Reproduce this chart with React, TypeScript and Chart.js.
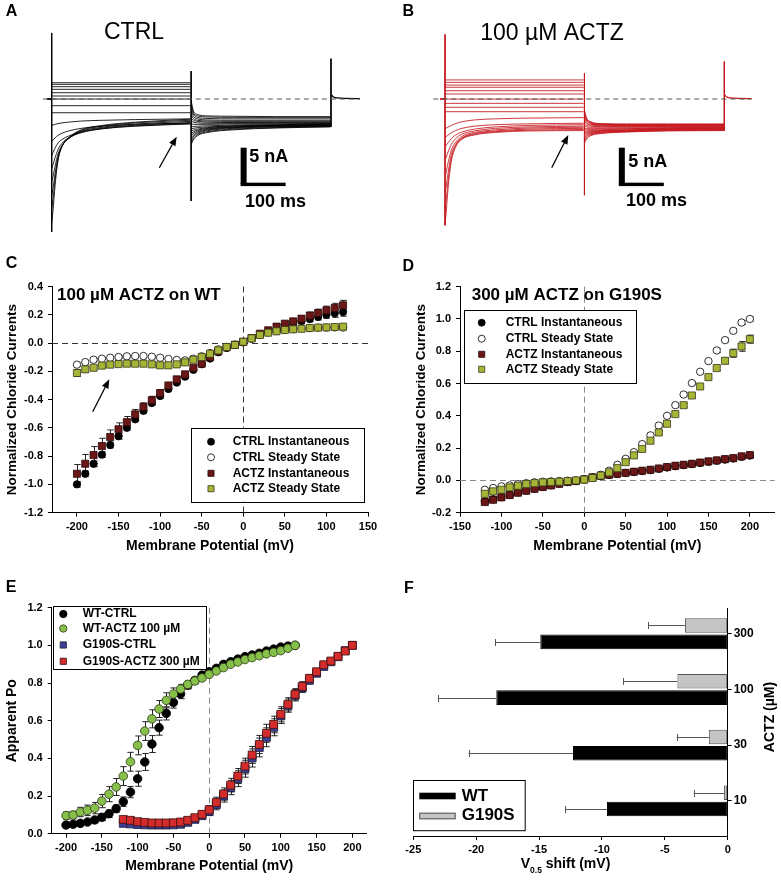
import React, { useEffect, useRef } from "react";
import { Chart, registerables } from "chart.js";

Chart.register(...registerables);

const FONT = "'Liberation Sans', Arial, Helvetica, sans-serif";
Chart.defaults.font.family = FONT;
Chart.defaults.color = "#000";

// ================= DATA =================
// ---- Panels A & B: current traces (time in ms, current in nA)
const PULSE_T = [0, 3, 8, 15, 25, 40, 70, 120, 200, 330];
const TAIL_T = [332, 337, 347, 372, 432, 532, 664];
const HOLD_T = [-12, 0];
const HOLD_I = [0, 0];
const SCALE_BAR = [100, 5]; // ms, nA

const A_ZERO_T = [-21, 734];
const A_FLAT = [2.22, 2.0, 1.68, 1.32, 0.86, 0.41, 0.0, -0.91, -1.87];
const A_DECAY = [
  [-3.6, -3.55, -3.45, -3.35, -3.25, -3.15, -3.0, -2.9, -2.8, -2.7],
  [-5.8, -5.6, -5.3, -4.95, -4.65, -4.35, -4.0, -3.7, -3.45, -3.3],
  [-7.7, -7.3, -6.7, -6.0, -5.5, -5.05, -4.5, -4.05, -3.7, -3.4],
  [-9.5, -9.0, -8.0, -6.9, -6.0, -5.3, -4.6, -4.05, -3.65, -3.35],
  [-11.3, -10.6, -9.2, -7.5, -6.3, -5.4, -4.5, -3.95, -3.55, -3.2],
  [-13.2, -12.2, -10.2, -7.9, -6.4, -5.4, -4.4, -3.85, -3.4, -3.05],
  [-15.0, -13.7, -11.0, -8.2, -6.4, -5.35, -4.3, -3.7, -3.25, -2.9],
  [-17.0, -15.3, -11.8, -8.4, -6.4, -5.3, -4.2, -3.6, -3.15, -2.75],
];
const A_TAIL = [
  [-6.2, -5.6, -5.0, -4.55, -4.2, -3.95, -3.8],
  [-5.9, -5.4, -4.85, -4.45, -4.1, -3.9, -3.75],
  [-5.6, -5.15, -4.7, -4.3, -4.0, -3.8, -3.7],
  [-5.3, -4.95, -4.55, -4.2, -3.9, -3.75, -3.65],
  [-5.0, -4.7, -4.4, -4.1, -3.85, -3.7, -3.6],
  [-4.7, -4.5, -4.25, -4.0, -3.8, -3.65, -3.55],
  [-4.4, -4.25, -4.1, -3.9, -3.7, -3.6, -3.5],
  [-4.1, -4.0, -3.9, -3.8, -3.65, -3.55, -3.45],
  [-3.8, -3.75, -3.7, -3.65, -3.55, -3.5, -3.4],
  [-3.4, -3.45, -3.45, -3.45, -3.4, -3.4, -3.35],
  [-3.0, -3.15, -3.25, -3.3, -3.3, -3.3, -3.3],
  [-2.6, -2.9, -3.05, -3.15, -3.2, -3.2, -3.2],
  [-2.2, -2.65, -2.9, -3.0, -3.05, -3.05, -3.05],
  [-1.7, -2.35, -2.7, -2.85, -2.9, -2.9, -2.9],
  [-1.2, -2.05, -2.5, -2.65, -2.7, -2.7, -2.7],
  [-0.7, -1.8, -2.3, -2.45, -2.5, -2.5, -2.5],
  [-0.2, -1.55, -2.1, -2.3, -2.35, -2.4, -2.4],
];
const A_SPIKES = [[0, 9.0, -18.1], [332, 3.8, -13.9], [665, 5.5, -3.8]];
const A_AFTER_T = [666, 670, 680, 700, 734];
const A_AFTER_I = [0.6, 0.3, 0.15, 0.08, 0.06];

const B_ZERO_T = [-28, 730];
const B_FLAT = [2.6, 2.27, 1.9, 1.6, 1.13, 0.68, 0.0, -0.59, -1.13, -1.73];
const B_DECAY = [
  [-4.0, -3.95, -3.8, -3.6, -3.35, -3.1, -2.85, -2.7, -2.6, -2.54],
  [-5.2, -5.1, -4.9, -4.6, -4.3, -4.0, -3.7, -3.5, -3.38, -3.3],
  [-6.5, -6.3, -5.9, -5.4, -4.9, -4.5, -4.1, -3.8, -3.6, -3.5],
  [-8.3, -7.9, -7.1, -6.2, -5.4, -4.8, -4.35, -4.0, -3.8, -3.7],
  [-10.6, -9.9, -8.5, -7.0, -5.9, -5.1, -4.55, -4.2, -3.95, -3.85],
  [-12.8, -11.8, -9.8, -7.6, -6.2, -5.3, -4.7, -4.35, -4.1, -4.0],
  [-15.1, -13.6, -10.8, -8.1, -6.4, -5.4, -4.8, -4.45, -4.25, -4.15],
  [-17.2, -15.3, -11.7, -8.5, -6.6, -5.5, -4.9, -4.55, -4.35, -4.3],
];
const B_TAIL = [
  [-6.0, -5.45, -5.0, -4.7, -4.5, -4.35, -4.3],
  [-5.75, -5.3, -4.9, -4.65, -4.45, -4.3, -4.25],
  [-5.5, -5.1, -4.8, -4.55, -4.4, -4.25, -4.2],
  [-5.25, -4.95, -4.7, -4.5, -4.35, -4.2, -4.15],
  [-5.0, -4.8, -4.6, -4.4, -4.3, -4.15, -4.1],
  [-4.8, -4.65, -4.5, -4.35, -4.25, -4.1, -4.05],
  [-4.6, -4.5, -4.4, -4.3, -4.2, -4.05, -4.0],
  [-4.4, -4.35, -4.3, -4.2, -4.1, -4.0, -3.95],
  [-4.2, -4.2, -4.15, -4.1, -4.05, -3.95, -3.9],
  [-4.0, -4.0, -4.0, -4.0, -3.95, -3.9, -3.85],
  [-3.7, -3.8, -3.85, -3.85, -3.85, -3.8, -3.8],
  [-3.4, -3.6, -3.7, -3.75, -3.75, -3.75, -3.75],
  [-3.0, -3.4, -3.55, -3.65, -3.65, -3.65, -3.65],
  [-2.7, -3.2, -3.45, -3.55, -3.6, -3.6, -3.6],
  [-2.4, -3.0, -3.35, -3.5, -3.55, -3.55, -3.55],
  [-2.1, -2.85, -3.25, -3.45, -3.5, -3.5, -3.5],
  [-1.8, -2.7, -3.15, -3.4, -3.45, -3.45, -3.45],
  [-1.5, -2.55, -3.1, -3.35, -3.4, -3.4, -3.4],
];
const B_SPIKES = [[0, 8.8, -17.2], [332, 3.5, -13.1], [665, 5.1, -4.3]];
const B_AFTER_T = [666, 670, 680, 700, 730];
const B_AFTER_I = [0.55, 0.3, 0.15, 0.08, 0.06];

// ---- Panel C: 100 µM ACTZ on WT (normalized currents)
const C_V = [-200, -190, -180, -170, -160, -150, -140, -130, -120, -110, -100, -90, -80, -70, -60, -50, -40, -30, -20, -10, 0, 10, 20, 30, 40, 50, 60, 70, 80, 90, 100, 110, 120];
const C_CTRL_INST = [-1.0, -0.925, -0.855, -0.79, -0.722, -0.66, -0.6, -0.54, -0.48, -0.425, -0.375, -0.325, -0.28, -0.238, -0.19, -0.15, -0.11, -0.065, -0.035, -0.012, 0.005, 0.032, 0.058, 0.08, 0.1, 0.12, 0.14, 0.155, 0.17, 0.185, 0.2, 0.21, 0.22];
const C_CTRL_SS = [-0.153, -0.135, -0.118, -0.111, -0.104, -0.099, -0.094, -0.092, -0.092, -0.097, -0.104, -0.113, -0.12, -0.123, -0.111, -0.094, -0.071, -0.045, -0.028, -0.014, 0.005, 0.031, 0.059, 0.076, 0.085, 0.094, 0.099, 0.104, 0.106, 0.109, 0.109, 0.111, 0.109];
const C_ACTZ_INST = [-0.925, -0.854, -0.793, -0.729, -0.665, -0.61, -0.56, -0.505, -0.453, -0.405, -0.354, -0.3, -0.257, -0.222, -0.175, -0.146, -0.1, -0.06, -0.03, -0.012, 0.008, 0.035, 0.066, 0.09, 0.116, 0.137, 0.153, 0.172, 0.194, 0.212, 0.231, 0.248, 0.267];
const C_ACTZ_SS = [-0.212, -0.186, -0.175, -0.16, -0.153, -0.149, -0.146, -0.146, -0.146, -0.151, -0.158, -0.158, -0.151, -0.137, -0.118, -0.099, -0.076, -0.052, -0.028, -0.014, 0.009, 0.033, 0.057, 0.073, 0.083, 0.092, 0.097, 0.101, 0.106, 0.109, 0.111, 0.113, 0.116];
const C_CTRL_INST_ERR = [0.02, 0.02, 0.02, 0.02, 0.02, 0.02, 0.015, 0.015, 0.015, 0.015, 0.015, 0.012, 0.01, 0.01, 0.01, 0.01, 0.008, 0.008, 0.005, 0.005, 0.005, 0.005, 0.008, 0.01, 0.01, 0.012, 0.015, 0.018, 0.02, 0.022, 0.025, 0.028, 0.03];
const C_CTRL_SS_ERR = [0.012, 0.01, 0.01, 0.008, 0.008, 0.008, 0.008, 0.008, 0.008, 0.008, 0.008, 0.008, 0.008, 0.008, 0.008, 0.008, 0.006, 0.006, 0.005, 0.005, 0.005, 0.005, 0.006, 0.006, 0.006, 0.006, 0.006, 0.008, 0.008, 0.008, 0.008, 0.01, 0.01];
const C_ACTZ_INST_ERR = [0.065, 0.065, 0.06, 0.055, 0.05, 0.045, 0.04, 0.035, 0.03, 0.028, 0.025, 0.02, 0.018, 0.015, 0.012, 0.01, 0.008, 0.008, 0.005, 0.005, 0.005, 0.008, 0.01, 0.012, 0.015, 0.018, 0.02, 0.022, 0.025, 0.028, 0.03, 0.033, 0.035];
const C_ACTZ_SS_ERR = [0.025, 0.02, 0.015, 0.012, 0.01, 0.01, 0.01, 0.01, 0.01, 0.01, 0.01, 0.01, 0.01, 0.01, 0.008, 0.008, 0.006, 0.006, 0.005, 0.005, 0.005, 0.005, 0.006, 0.006, 0.006, 0.006, 0.006, 0.006, 0.008, 0.008, 0.008, 0.01, 0.01];
const C_X_TICKS = [-200, -150, -100, -50, 0, 50, 100, 150];
const C_Y_TICKS = [-1.2, -1.0, -0.8, -0.6, -0.4, -0.2, 0, 0.2, 0.4];

// ---- Panel D: 300 µM ACTZ on G190S
const D_V = [-120, -110, -100, -90, -80, -70, -60, -50, -40, -30, -20, -10, 0, 10, 20, 30, 40, 50, 60, 70, 80, 90, 100, 110, 120, 130, 140, 150, 160, 170, 180, 190, 200];
const D_CTRL_INST = [-0.13, -0.117, -0.103, -0.089, -0.075, -0.063, -0.051, -0.04, -0.03, -0.02, -0.01, -0.004, 0.006, 0.018, 0.028, 0.034, 0.04, 0.046, 0.052, 0.058, 0.064, 0.072, 0.08, 0.088, 0.095, 0.101, 0.108, 0.115, 0.122, 0.129, 0.136, 0.146, 0.154];
const D_CTRL_SS = [-0.058, -0.047, -0.037, -0.031, -0.023, -0.017, -0.012, -0.008, -0.006, -0.004, -0.002, 0.0, 0.008, 0.018, 0.035, 0.06, 0.097, 0.134, 0.175, 0.225, 0.279, 0.34, 0.4, 0.466, 0.532, 0.603, 0.673, 0.739, 0.805, 0.869, 0.927, 0.978, 1.0];
const D_ACTZ_INST = [-0.134, -0.12, -0.105, -0.091, -0.076, -0.064, -0.052, -0.041, -0.031, -0.021, -0.01, -0.004, 0.006, 0.019, 0.029, 0.035, 0.041, 0.047, 0.054, 0.06, 0.066, 0.074, 0.083, 0.091, 0.097, 0.103, 0.111, 0.118, 0.124, 0.132, 0.138, 0.149, 0.157];
const D_ACTZ_SS = [-0.083, -0.068, -0.058, -0.043, -0.033, -0.023, -0.017, -0.012, -0.01, -0.008, -0.004, 0.0, 0.005, 0.015, 0.03, 0.05, 0.076, 0.113, 0.155, 0.195, 0.246, 0.297, 0.351, 0.411, 0.466, 0.526, 0.582, 0.64, 0.696, 0.741, 0.788, 0.83, 0.875];
const D_INST_ERR = [0.008, 0.008, 0.007, 0.007, 0.006, 0.006, 0.005, 0.005, 0.005, 0.005, 0.005, 0.005, 0.005, 0.005, 0.005, 0.005, 0.005, 0.005, 0.005, 0.005, 0.005, 0.006, 0.006, 0.006, 0.006, 0.006, 0.007, 0.007, 0.007, 0.008, 0.008, 0.008, 0.009];
const D_CTRL_SS_ERR = [0.008, 0.008, 0.007, 0.007, 0.006, 0.006, 0.005, 0.005, 0.005, 0.005, 0.005, 0.005, 0.005, 0.005, 0.006, 0.006, 0.007, 0.008, 0.008, 0.008, 0.009, 0.01, 0.01, 0.01, 0.01, 0.01, 0.01, 0.01, 0.012, 0.012, 0.012, 0.012, 0.012];
const D_ACTZ_SS_ERR = [0.008, 0.008, 0.007, 0.007, 0.006, 0.006, 0.005, 0.005, 0.005, 0.005, 0.005, 0.005, 0.005, 0.005, 0.006, 0.006, 0.007, 0.008, 0.008, 0.008, 0.008, 0.01, 0.01, 0.012, 0.012, 0.012, 0.015, 0.015, 0.015, 0.018, 0.025, 0.03, 0.025];
const D_X_TICKS = [-150, -100, -50, 0, 50, 100, 150, 200];
const D_Y_TICKS = [-0.2, 0, 0.2, 0.4, 0.6, 0.8, 1.0, 1.2];

// ---- Panel E: apparent Po
const E_WT_V = [-200, -190, -180, -170, -160, -150, -140, -130, -120, -110, -100, -90, -80, -70, -60, -50, -40, -30, -20, -10, 0, 10, 20, 30, 40, 50, 60, 70, 80, 90, 100, 110, 120];
const E_WT_CTRL = [0.046, 0.05, 0.055, 0.062, 0.073, 0.087, 0.106, 0.133, 0.17, 0.221, 0.292, 0.381, 0.476, 0.563, 0.639, 0.697, 0.742, 0.789, 0.814, 0.842, 0.86, 0.878, 0.899, 0.913, 0.927, 0.94, 0.949, 0.958, 0.97, 0.98, 0.991, 0.996, 1.0];
const E_WT_ACTZ = [0.096, 0.099, 0.115, 0.124, 0.136, 0.173, 0.21, 0.248, 0.306, 0.382, 0.469, 0.545, 0.61, 0.662, 0.708, 0.742, 0.768, 0.793, 0.811, 0.827, 0.846, 0.864, 0.882, 0.9, 0.912, 0.925, 0.935, 0.945, 0.955, 0.963, 0.972, 0.985, 1.0];
const E_WT_CTRL_ERR = [0.012, 0.012, 0.012, 0.012, 0.015, 0.018, 0.02, 0.02, 0.025, 0.03, 0.04, 0.045, 0.045, 0.04, 0.035, 0.03, 0.025, 0.02, 0.015, 0.012, 0.01, 0.01, 0.01, 0.008, 0.008, 0.008, 0.006, 0.006, 0.006, 0.005, 0.005, 0.005, 0.0];
const E_WT_ACTZ_ERR = [0.02, 0.02, 0.025, 0.028, 0.03, 0.035, 0.04, 0.045, 0.05, 0.05, 0.05, 0.05, 0.048, 0.045, 0.04, 0.032, 0.025, 0.02, 0.015, 0.012, 0.01, 0.01, 0.01, 0.008, 0.008, 0.008, 0.006, 0.006, 0.006, 0.005, 0.005, 0.005, 0.0];
const E_G_V = [-120, -110, -100, -90, -80, -70, -60, -50, -40, -30, -20, -10, 0, 10, 20, 30, 40, 50, 60, 70, 80, 90, 100, 110, 120, 130, 140, 150, 160, 170, 180, 190, 200];
const E_G_CTRL = [0.055, 0.052, 0.049, 0.047, 0.046, 0.046, 0.046, 0.047, 0.05, 0.06, 0.076, 0.096, 0.118, 0.155, 0.2, 0.245, 0.292, 0.345, 0.402, 0.458, 0.512, 0.565, 0.625, 0.68, 0.735, 0.775, 0.815, 0.852, 0.888, 0.913, 0.94, 0.972, 1.0];
const E_G_ACTZ = [0.076, 0.071, 0.064, 0.06, 0.057, 0.057, 0.057, 0.058, 0.062, 0.071, 0.085, 0.103, 0.127, 0.166, 0.211, 0.258, 0.306, 0.359, 0.418, 0.474, 0.533, 0.58, 0.634, 0.687, 0.74, 0.782, 0.825, 0.86, 0.897, 0.917, 0.942, 0.97, 1.0];
const E_G_CTRL_ERR = [0.01, 0.01, 0.01, 0.01, 0.01, 0.01, 0.01, 0.01, 0.01, 0.012, 0.015, 0.018, 0.022, 0.028, 0.032, 0.038, 0.042, 0.045, 0.048, 0.05, 0.05, 0.045, 0.04, 0.035, 0.03, 0.025, 0.02, 0.015, 0.012, 0.01, 0.01, 0.008, 0.0];
const E_G_ACTZ_ERR = [0.01, 0.01, 0.01, 0.01, 0.01, 0.01, 0.01, 0.01, 0.01, 0.012, 0.015, 0.018, 0.022, 0.028, 0.032, 0.036, 0.04, 0.042, 0.045, 0.048, 0.048, 0.044, 0.04, 0.035, 0.03, 0.025, 0.02, 0.015, 0.012, 0.01, 0.01, 0.008, 0.0];
const E_X_TICKS = [-200, -150, -100, -50, 0, 50, 100, 150, 200];
const E_Y_TICKS = [0, 0.2, 0.4, 0.6, 0.8, 1.0, 1.2];

// ---- Panel F: V0.5 shift (mV)
const F_CATS = ["300", "100", "30", "10"];
const F_WT = [-14.9, -18.4, -12.3, -9.6];
const F_WT_ERR = [3.6, 4.65, 8.3, 3.3];
const F_G190S = [-3.4, -4.0, -1.5, -0.3];
const F_G190S_ERR = [2.9, 4.3, 2.55, 2.4];
const F_X_TICKS = [-25, -20, -15, -10, -5, 0];

// ================= HELPERS =================
const pts = (xs: number[], ys: number[]) => xs.map((x, i) => ({ x, y: ys[i] }));

function drawText(ctx: any, t: any) {
  ctx.save();
  ctx.font = `${t.weight || "bold"} ${t.size}px ${FONT}`;
  ctx.fillStyle = t.color || "#000";
  ctx.textAlign = t.align || "left";
  ctx.textBaseline = "middle";
  if (t.rotate) {
    ctx.translate(t.x, t.y);
    ctx.rotate(t.rotate);
    ctx.fillText(t.text, 0, 0);
  } else {
    ctx.fillText(t.text, t.x, t.y);
  }
  ctx.restore();
}

function drawArrow(ctx: any, a: number[]) {
  const [x0, y0, x1, y1] = a;
  const ang = Math.atan2(y1 - y0, x1 - x0);
  const hl = 9, hw = 3.6;
  const bx = x1 - hl * Math.cos(ang), by = y1 - hl * Math.sin(ang);
  ctx.save();
  ctx.strokeStyle = "#000";
  ctx.fillStyle = "#000";
  ctx.lineWidth = 1.3;
  ctx.beginPath();
  ctx.moveTo(x0, y0);
  ctx.lineTo(bx, by);
  ctx.stroke();
  ctx.beginPath();
  ctx.moveTo(x1, y1);
  ctx.lineTo(bx - hw * Math.sin(ang), by + hw * Math.cos(ang));
  ctx.lineTo(bx + hw * Math.sin(ang), by - hw * Math.cos(ang));
  ctx.closePath();
  ctx.fill();
  ctx.restore();
}

function drawMarker(ctx: any, style: string, x: number, y: number, r: number, fill: string, stroke: string, bw: number) {
  ctx.save();
  ctx.beginPath();
  if (style === "rect") {
    const s = r * Math.SQRT1_2;
    ctx.rect(x - s, y - s, 2 * s, 2 * s);
  } else {
    ctx.arc(x, y, r, 0, Math.PI * 2);
  }
  ctx.fillStyle = fill;
  ctx.fill();
  ctx.lineWidth = bw;
  ctx.strokeStyle = stroke;
  ctx.stroke();
  ctx.restore();
}

function decor(cfg: any) {
  return {
    id: "decor",
    afterDraw(chart: any) {
      const ctx = chart.ctx;
      if (cfg.bar) {
        const xs = chart.scales.x, ys = chart.scales.y;
        const x0 = xs.getPixelForValue(cfg.bar.t);
        const x1 = xs.getPixelForValue(cfg.bar.t + SCALE_BAR[0]);
        const yTop = ys.getPixelForValue(cfg.bar.i);
        const yBot = ys.getPixelForValue(cfg.bar.i - SCALE_BAR[1]);
        ctx.save();
        ctx.fillStyle = "#000";
        ctx.fillRect(x0 - 3, yTop, 6, yBot - yTop);
        ctx.fillRect(x0 - 3, yBot - 1.7, x1 - x0 + 3, 3.4);
        ctx.restore();
      }
      (cfg.arrows || []).forEach((a: number[]) => drawArrow(ctx, a));
      (cfg.texts || []).forEach((t: any) => drawText(ctx, t));
      if (cfg.draw) cfg.draw(ctx, chart);
    },
  };
}

function zeroLines(cfg: any) {
  return {
    id: "zeroLines",
    beforeDatasetsDraw(chart: any) {
      const { ctx, chartArea: a, scales } = chart;
      ctx.save();
      ctx.setLineDash(cfg.dash);
      ctx.strokeStyle = cfg.color;
      ctx.lineWidth = 1;
      if (cfg.h) {
        const py = Math.round(scales.y.getPixelForValue(0)) + 0.5;
        ctx.beginPath();
        ctx.moveTo(a.left, py);
        ctx.lineTo(a.right, py);
        ctx.stroke();
      }
      if (cfg.v) {
        const px = Math.round(scales.x.getPixelForValue(0)) + 0.5;
        ctx.beginPath();
        ctx.moveTo(px, a.top);
        ctx.lineTo(px, a.bottom);
        ctx.stroke();
      }
      ctx.restore();
    },
  };
}

const errorBars = {
  id: "errorBars",
  beforeDatasetsDraw(chart: any) {
    const { ctx } = chart;
    const ys = chart.scales.y;
    chart.data.datasets.forEach((ds: any, i: number) => {
      if (!ds.errors) return;
      const meta = chart.getDatasetMeta(i);
      ctx.save();
      ctx.strokeStyle = ds.errorColor || "#222";
      ctx.lineWidth = 1;
      meta.data.forEach((el: any, j: number) => {
        const e = ds.errors[j];
        if (!e) return;
        const v = ds.data[j].y;
        const y0 = ys.getPixelForValue(v + e);
        const y1 = ys.getPixelForValue(v - e);
        const x = Math.round(el.x) + 0.5;
        const cw = 3.2;
        ctx.beginPath();
        ctx.moveTo(x, y0);
        ctx.lineTo(x, y1);
        ctx.moveTo(x - cw, y0);
        ctx.lineTo(x + cw, y0);
        ctx.moveTo(x - cw, y1);
        ctx.lineTo(x + cw, y1);
        ctx.stroke();
      });
      ctx.restore();
    });
  },
};

function boxLegend(cfg: any) {
  return {
    id: "boxLegend",
    afterDatasetsDraw(chart: any) {
      const ctx = chart.ctx;
      const [x0, y0, x1, y1] = cfg.box;
      ctx.save();
      ctx.fillStyle = "#fff";
      ctx.fillRect(x0, y0, x1 - x0, y1 - y0);
      ctx.strokeStyle = "#000";
      ctx.lineWidth = 1;
      ctx.strokeRect(Math.round(x0) + 0.5, Math.round(y0) + 0.5, Math.round(x1 - x0), Math.round(y1 - y0));
      ctx.restore();
      cfg.items.forEach((it: any, k: number) => {
        const d = chart.data.datasets[it.ds];
        drawMarker(ctx, d.pointStyle, cfg.markerX, cfg.rows[k], it.r, d.backgroundColor, d.borderColor, d.borderWidth);
        drawText(ctx, { text: d.label, x: cfg.textX, y: cfg.rows[k], size: cfg.font });
      });
    },
  };
}

function linAxis(o: any) {
  return {
    type: "linear",
    position: o.position,
    min: o.min,
    max: o.max,
    reverse: !!o.reverse,
    offset: false,
    afterBuildTicks: (s: any) => {
      s.ticks = o.ticks.map((v: number) => ({ value: v }));
    },
    afterFit: (s: any) => {
      if (s.isHorizontal()) s.height = o.size;
      else s.width = o.size;
    },
    grid: { display: true, offset: false, drawOnChartArea: false, drawTicks: true, tickLength: 4, color: "#000", lineWidth: 1 },
    border: { display: true, color: "#000", width: 1 },
    ticks: {
      display: true,
      autoSkip: false,
      maxRotation: 0,
      minRotation: 0,
      padding: o.tickPad ?? 4,
      color: "#000",
      font: { family: FONT, size: o.tickSize ?? 11, weight: "bold" },
      callback: o.fmt,
    },
    title: {
      display: !!o.title,
      text: o.title || "",
      color: "#000",
      font: { family: FONT, size: o.titleSize ?? 14, weight: "bold" },
      padding: { top: o.titlePad ?? 0, bottom: 0 },
    },
  };
}

const baseOptions = {
  animation: false,
  responsive: false,
  events: [],
  plugins: { legend: { display: false }, tooltip: { enabled: false }, title: { display: false } },
};

const fmt1 = (v: number) => v.toFixed(1);
const fmt0 = (v: number) => String(v);

function scatterDs(label: string, xs: number[], ys: number[], errs: number[], style: string, r: number, fill: string, stroke: string, order: number) {
  return {
    label,
    data: pts(xs, ys),
    errors: errs,
    pointStyle: style,
    pointRadius: r,
    backgroundColor: fill,
    borderColor: stroke,
    borderWidth: 0.8,
    showLine: false,
    order,
  };
}

// ================= PANEL BUILDERS =================
function traceConfig(s: any) {
  const line = (data: any[], extra: any = {}) => ({
    data,
    borderColor: s.color,
    borderWidth: 0.85,
    pointRadius: 0,
    fill: false,
    ...extra,
  });
  const ds: any[] = [];
  ds.push({ data: s.zeroT.map((t: number) => ({ x: t, y: 0 })), borderColor: "#555", borderWidth: 1, borderDash: [5, 4], pointRadius: 0, fill: false });
  s.spikes.forEach((sp: number[]) => ds.push(line([{ x: sp[0], y: sp[1] }, { x: sp[0], y: sp[2] }], { borderWidth: 1 })));
  s.flat.forEach((v: number) => ds.push(line([{ x: PULSE_T[0], y: v }, { x: PULSE_T[PULSE_T.length - 1], y: v }])));
  s.decay.forEach((arr: number[]) => ds.push(line(pts(PULSE_T, arr), { cubicInterpolationMode: "monotone" })));
  s.tail.forEach((arr: number[]) => ds.push(line(pts(TAIL_T, arr), { cubicInterpolationMode: "monotone" })));
  ds.push(line(pts(HOLD_T, HOLD_I), { borderWidth: 1.8 }));
  ds.push(line(pts(s.afterT, s.afterI), { cubicInterpolationMode: "monotone", borderWidth: 1.2 }));
  return {
    type: "line",
    data: { datasets: ds },
    options: {
      ...baseOptions,
      layout: { padding: 0 },
      scales: {
        x: { type: "linear", display: false, min: s.xMin, max: s.xMax },
        y: { type: "linear", display: false, min: -20.57, max: 13.49 },
      },
    },
    plugins: [decor({ texts: s.texts, arrows: s.arrows, bar: s.bar })],
  };
}

const buildA = () =>
  traceConfig({
    color: "#000",
    zeroT: A_ZERO_T,
    flat: A_FLAT,
    decay: A_DECAY,
    tail: A_TAIL,
    spikes: A_SPIKES,
    afterT: A_AFTER_T,
    afterI: A_AFTER_I,
    xMin: -123.1,
    xMax: 805.5,
    bar: { t: 457, i: -6.63 },
    arrows: [[159.3, 167.7, 176.7, 136.7]],
    texts: [
      { text: "A", x: 11.5, y: 12, size: 16, align: "center" },
      { text: "CTRL", x: 134, y: 32.5, size: 23, weight: "normal", align: "center" },
      { text: "5 nA", x: 249.3, y: 156.7, size: 18 },
      { text: "100 ms", x: 245, y: 201.7, size: 18 },
    ],
  });

const buildB = () =>
  traceConfig({
    color: "#c4161c",
    zeroT: B_ZERO_T,
    flat: B_FLAT,
    decay: B_DECAY,
    tail: B_TAIL,
    spikes: B_SPIKES,
    afterT: B_AFTER_T,
    afterI: B_AFTER_I,
    xMin: -131,
    xMax: 800,
    bar: { t: 421, i: -6.63 },
    arrows: [[161.7, 167.7, 178.3, 135]],
    texts: [
      { text: "B", x: 18.3, y: 11.5, size: 16, align: "center" },
      { text: "100 µM ACTZ", x: 162, y: 33.3, size: 23, weight: "normal", align: "center" },
      { text: "5 nA", x: 238.3, y: 161.7, size: 18 },
      { text: "100 ms", x: 236, y: 201, size: 18 },
    ],
  });

const buildC = () => ({
  type: "scatter",
  data: {
    datasets: [
      scatterDs("CTRL Instantaneous", C_V, C_CTRL_INST, C_CTRL_INST_ERR, "circle", 3.7, "#000", "#000", 3),
      scatterDs("CTRL Steady State", C_V, C_CTRL_SS, C_CTRL_SS_ERR, "circle", 3.7, "#fff", "#000", 2),
      scatterDs("ACTZ Instantaneous", C_V, C_ACTZ_INST, C_ACTZ_INST_ERR, "rect", 5, "#6b1717", "#2b0808", 1),
      scatterDs("ACTZ Steady State", C_V, C_ACTZ_SS, C_ACTZ_SS_ERR, "rect", 5, "#a6b536", "#3a3a1a", 0),
    ],
  },
  options: {
    ...baseOptions,
    layout: { padding: { left: 2, top: 36.5, right: 22, bottom: 0 } },
    scales: {
      x: linAxis({ position: "bottom", min: -230, max: 150, ticks: C_X_TICKS, size: 42.4, fmt: fmt0, title: "Membrane Potential (mV)", titleSize: 14 }),
      y: linAxis({ position: "left", min: -1.2, max: 0.4, ticks: C_Y_TICKS, size: 50, fmt: fmt1, tickPad: 5, title: "Normalized Chloride Currents", titleSize: 13.5, titlePad: 2 }),
    },
  },
  plugins: [
    zeroLines({ h: true, v: true, color: "#333", dash: [6, 4] }),
    errorBars,
    boxLegend({
      box: [191, 177.7, 364.3, 251.7],
      markerX: 211,
      textX: 232.7,
      rows: [191.7, 207.3, 223.3, 238.7],
      font: 12,
      items: [{ ds: 0, r: 3.5 }, { ds: 1, r: 3.5 }, { ds: 2, r: 4.3 }, { ds: 3, r: 4.3 }],
    }),
    decor({
      arrows: [[92.7, 161.7, 109.3, 129.3]],
      texts: [
        { text: "C", x: 11.5, y: 14, size: 16, align: "center" },
        { text: "100 µM ACTZ on WT", x: 57, y: 45.5, size: 17 },
      ],
    }),
  ],
});

const buildD = () => ({
  type: "scatter",
  data: {
    datasets: [
      scatterDs("CTRL Instantaneous", D_V, D_CTRL_INST, D_INST_ERR, "circle", 3.7, "#000", "#000", 3),
      scatterDs("CTRL Steady State", D_V, D_CTRL_SS, D_CTRL_SS_ERR, "circle", 3.7, "#fff", "#000", 2),
      scatterDs("ACTZ Instantaneous", D_V, D_ACTZ_INST, D_INST_ERR, "rect", 5, "#6b1717", "#2b0808", 1),
      scatterDs("ACTZ Steady State", D_V, D_ACTZ_SS, D_ACTZ_SS_ERR, "rect", 5, "#a6b536", "#3a3a1a", 0),
    ],
  },
  options: {
    ...baseOptions,
    layout: { padding: { left: 23.6, top: 36.7, right: 6.3, bottom: 0 } },
    scales: {
      x: linAxis({ position: "bottom", min: -150, max: 230, ticks: D_X_TICKS, size: 42.3, fmt: fmt0, title: "Membrane Potential (mV)", titleSize: 14 }),
      y: linAxis({ position: "left", min: -0.2, max: 1.2, ticks: D_Y_TICKS, size: 46.4, fmt: fmt1, tickPad: 5, title: "Normalized Chloride Currents", titleSize: 13.5, titlePad: 0 }),
    },
  },
  plugins: [
    zeroLines({ h: true, v: true, color: "#888", dash: [6, 4] }),
    errorBars,
    boxLegend({
      box: [74, 60, 245.7, 133.3],
      markerX: 91.7,
      textX: 115.7,
      rows: [72.7, 88.7, 104.3, 119.3],
      font: 12,
      items: [{ ds: 0, r: 3.5 }, { ds: 1, r: 3.5 }, { ds: 2, r: 4.3 }, { ds: 3, r: 4.3 }],
    }),
    decor({
      texts: [
        { text: "D", x: 18.3, y: 16.7, size: 16, align: "center" },
        { text: "300 µM ACTZ on G190S", x: 81.7, y: 45.5, size: 17 },
      ],
    }),
  ],
});

const buildE = () => ({
  type: "scatter",
  data: {
    datasets: [
      scatterDs("WT-CTRL", E_WT_V, E_WT_CTRL, E_WT_CTRL_ERR, "circle", 4.3, "#000", "#000", 3),
      scatterDs("WT-ACTZ 100 µM", E_WT_V, E_WT_ACTZ, E_WT_ACTZ_ERR, "circle", 4.3, "#86c04a", "#2e3a1a", 2),
      scatterDs("G190S-CTRL", E_G_V, E_G_CTRL, E_G_CTRL_ERR, "rect", 5.6, "#3b3f96", "#1a1a3a", 1),
      scatterDs("G190S-ACTZ 300 µM", E_G_V, E_G_ACTZ, E_G_ACTZ_ERR, "rect", 5.6, "#d42b2b", "#3a1010", 0),
    ],
  },
  options: {
    ...baseOptions,
    layout: { padding: { left: 2, top: 32.7, right: 23.3, bottom: 0 } },
    scales: {
      x: linAxis({ position: "bottom", min: -220, max: 220, ticks: E_X_TICKS, size: 41.3, fmt: fmt0, title: "Membrane Potential (mV)", titleSize: 14 }),
      y: linAxis({ position: "left", min: 0, max: 1.2, ticks: E_Y_TICKS, size: 49.7, fmt: fmt1, tickPad: 5, title: "Apparent Po", titleSize: 14, titlePad: 2 }),
    },
  },
  plugins: [
    zeroLines({ h: false, v: true, color: "#888", dash: [6, 4] }),
    errorBars,
    boxLegend({
      box: [53.3, 31, 206, 94.3],
      markerX: 63.3,
      textX: 82.7,
      rows: [39, 53.5, 70, 86.3],
      font: 12,
      items: [{ ds: 0, r: 3.7 }, { ds: 1, r: 3.7 }, { ds: 2, r: 4.4 }, { ds: 3, r: 4.4 }],
    }),
    decor({ texts: [{ text: "E", x: 11, y: 12.5, size: 16, align: "center" }] }),
  ],
});

const hErrorBars = {
  id: "hErrorBars",
  afterDatasetsDraw(chart: any) {
    const { ctx } = chart;
    const xs = chart.scales.x;
    chart.data.datasets.forEach((ds: any, i: number) => {
      const meta = chart.getDatasetMeta(i);
      ctx.save();
      ctx.strokeStyle = "#555";
      ctx.lineWidth = 1;
      meta.data.forEach((el: any, j: number) => {
        const v = ds.data[j].x;
        const xEnd = xs.getPixelForValue(v - ds.errors[j]);
        const y = Math.round(el.y) + 0.5;
        ctx.beginPath();
        ctx.moveTo(el.x, y);
        ctx.lineTo(xEnd, y);
        ctx.moveTo(Math.round(xEnd) + 0.5, y - 3.5);
        ctx.lineTo(Math.round(xEnd) + 0.5, y + 3.5);
        ctx.stroke();
      });
      ctx.restore();
    });
  },
};

const buildF = () => ({
  type: "bar",
  data: {
    datasets: [
      {
        label: "G190S",
        data: F_G190S.map((v, i) => ({ x: v, y: i })),
        errors: F_G190S_ERR,
        backgroundColor: "#c4c4c4",
        borderColor: "#555",
        borderWidth: 1,
        borderSkipped: false,
        categoryPercentage: 0.585,
        barPercentage: 0.9,
      },
      {
        label: "WT",
        data: F_WT.map((v, i) => ({ x: v, y: i })),
        errors: F_WT_ERR,
        backgroundColor: "#000",
        borderColor: "#000",
        borderWidth: 1,
        borderSkipped: false,
        categoryPercentage: 0.585,
        barPercentage: 0.9,
      },
    ],
  },
  options: {
    ...baseOptions,
    indexAxis: "y",
    layout: { padding: { left: 23.3, top: 33, right: 0, bottom: 0 } },
    scales: {
      x: linAxis({ position: "bottom", min: -25, max: 0, ticks: F_X_TICKS, size: 44, fmt: fmt0, tickPad: 3 }),
      y: linAxis({
        position: "right",
        reverse: true,
        min: -0.46,
        max: 3.63,
        ticks: F_CATS.map((_, i) => i),
        size: 53.3,
        fmt: (v: number) => F_CATS[v],
        tickPad: 2,
        tickSize: 12,
      }),
    },
  },
  plugins: [
    hErrorBars,
    decor({
      texts: [
        { text: "F", x: 19, y: 14, size: 16, align: "center" },
        { text: "ACTZ (µM)", x: 380, y: 142, size: 14, align: "center", rotate: -Math.PI / 2 },
        { text: "WT", x: 71.7, y: 221, size: 17 },
        { text: "G190S", x: 71.7, y: 240.5, size: 17 },
      ],
      draw: (ctx: any) => {
        // legend box and swatches
        ctx.save();
        ctx.strokeStyle = "#000";
        ctx.lineWidth = 1;
        ctx.strokeRect(23.5, 205.5, 111.7, 50.2);
        ctx.fillStyle = "#000";
        ctx.fillRect(29.3, 217.7, 36.4, 6.6);
        ctx.fillStyle = "#c4c4c4";
        ctx.fillRect(29.3, 237.7, 36.4, 6.6);
        ctx.strokeStyle = "#555";
        ctx.strokeRect(29.8, 238.2, 35.4, 5.6);
        ctx.restore();
        // x axis title with subscript
        ctx.save();
        const big = `bold 14px ${FONT}`;
        const small = `bold 8.5px ${FONT}`;
        ctx.font = big;
        const wV = ctx.measureText("V").width;
        const wRest = ctx.measureText(" shift (mV)").width;
        ctx.font = small;
        const wSub = ctx.measureText("0.5").width;
        const total = wV + wSub + wRest;
        let x = 175.5 - total / 2;
        const y = 289.5;
        ctx.fillStyle = "#000";
        ctx.textBaseline = "middle";
        ctx.textAlign = "left";
        ctx.font = big;
        ctx.fillText("V", x, y);
        x += wV;
        ctx.font = small;
        ctx.fillText("0.5", x, y + 6);
        x += wSub;
        ctx.font = big;
        ctx.fillText(" shift (mV)", x, y);
        ctx.restore();
      },
    }),
  ],
});

// ================= COMPONENTS =================
function ChartCanvas({ left, top, width, height, build }: any) {
  const ref = useRef<HTMLCanvasElement | null>(null);
  useEffect(() => {
    const c = ref.current;
    if (!c) return;
    const chart = new Chart(c, build());
    return () => chart.destroy();
  }, [build]);
  return (
    <canvas
      ref={ref}
      width={width}
      height={height}
      style={{ position: "absolute", left, top, width, height, display: "block" }}
    />
  );
}

export default function App() {
  return (
    <div style={{ position: "absolute", left: 0, top: 0, width: 781, height: 880, background: "#fff", overflow: "hidden" }}>
      <ChartCanvas left={0} top={0} width={390} height={250} build={buildA} />
      <ChartCanvas left={390} top={0} width={391} height={250} build={buildB} />
      <ChartCanvas left={0} top={250} width={390} height={305} build={buildC} />
      <ChartCanvas left={390} top={250} width={391} height={305} build={buildD} />
      <ChartCanvas left={0} top={575} width={390} height={300} build={buildE} />
      <ChartCanvas left={390} top={575} width={391} height={305} build={buildF} />
    </div>
  );
}
